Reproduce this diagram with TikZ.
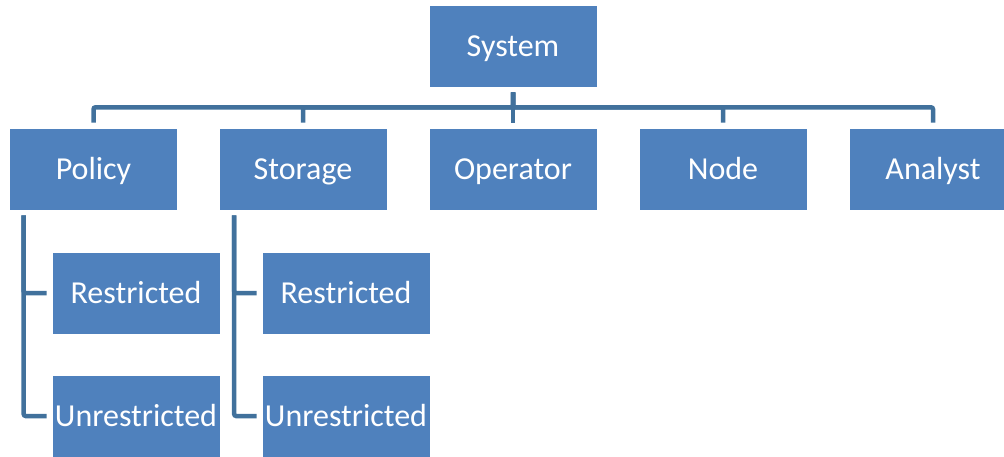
\documentclass[tikz,border=0pt]{standalone}
\usepackage{fontspec}
\setmainfont{Carlito}
\usepackage{tikz}
\usetikzlibrary{positioning,calc}
\definecolor{boxblue}{RGB}{79,129,189}
\definecolor{linkblue}{RGB}{65,113,156}

\begin{document}
\begin{tikzpicture}[
    x=1pt, y=1pt,
    unit/.style={draw=white, line width=0.6pt, fill=boxblue, text=white, minimum width=168pt, minimum height=82pt, inner sep=0pt, text height=24pt, text depth=3pt, font=\fontsize{32}{36}\selectfont},
    link/.style={linkblue, line width=4.5pt, rounded corners=2pt, shorten <=5pt, shorten >=5pt}
]
\useasboundingbox (0,0) rectangle (1004,-456);

% top level and its five branches
\node[unit] (sys) at (513,-46) {System};
\node[unit] (pol) at (93.5,-169) {Policy};
\node[unit] (sto) at (303,-169) {Storage};
\node[unit] (ope) at (513,-169) {Operator};
\node[unit] (nod) at (723,-169) {Node};
\node[unit] (ana) at (933,-169) {Analyst};

% sub-entries
\node[unit] (polr) at (136,-293) {Restricted};
\node[unit] (polu) at (136,-416) {Unrestricted};
\node[unit] (stor) at (346,-293) {Restricted};
\node[unit] (stou) at (346,-416) {Unrestricted};

\foreach \b in {pol,sto,ope,nod,ana}
  \draw[link] (sys.south) -- ++(0,-20) -| (\b.north);

\draw[link] ([xshift=14.5pt]pol.south west) |- (polr.west);
\draw[link] ([xshift=14.5pt]pol.south west) |- (polu.west);
\draw[link] ([xshift=15.5pt]sto.south west) |- (stor.west);
\draw[link] ([xshift=15.5pt]sto.south west) |- (stou.west);
\end{tikzpicture}
\end{document}
